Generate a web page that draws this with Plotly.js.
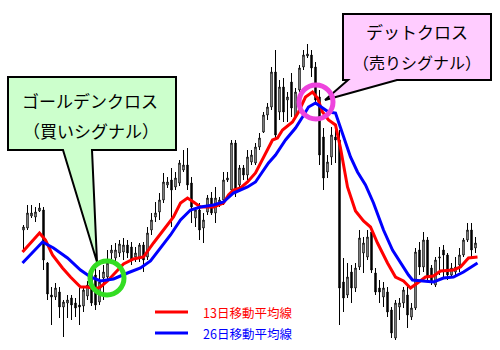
<!DOCTYPE html>
<html>
<head>
<meta charset="utf-8">
<script src="https://cdn.plot.ly/plotly-3.0.1.min.js"></script>
<style>html,body{margin:0;padding:0;background:#fff;}#chart{width:500px;height:350px;}</style>
</head>
<body>
<div id="chart"></div>
<script>
// ---- candle data (price units) ----
const openP  = [120,122,134,133,139,140,87,55,53,58,43,47,52,47,45,44,54,77,75,48,72,73,97,92,97,98,105,103,93,92,105,93,120,133,138,150,165,170,163,167,180,185,167,132,140,122,138,152,137,147,150,170,160,207,165,182,175,188,187,203,218,235,243,278,238,263,250,268,233,260,283,294,295,283,253,213,178,193,213,210,68,55,78,62,83,97,93,118,77,62,53,58,40,12,43,47,55,33,42,100,83,110,82,65,92,100,95,75,78,85,95,110,120,102];
const highP  = [125,145,145,143,147,143,88,63,67,63,50,55,55,52,62,63,69,82,82,80,85,100,105,107,110,112,110,108,103,107,108,123,137,148,157,177,173,182,178,190,200,202,173,143,147,137,155,158,163,153,178,178,210,210,185,185,200,200,207,217,238,247,283,300,270,272,258,277,262,285,300,306,300,288,260,222,195,223,220,220,92,87,85,87,120,113,120,120,82,70,68,63,43,50,52,63,65,47,102,108,118,113,85,93,103,105,97,87,93,102,112,127,127,113];
const lowP   = [100,120,132,128,138,80,50,25,50,32,13,32,30,33,25,38,50,44,40,45,50,70,88,85,93,90,92,85,88,88,78,90,115,128,130,147,162,123,160,164,178,160,127,123,110,107,135,135,127,143,145,168,157,153,160,170,170,185,185,200,217,230,240,210,230,228,228,233,232,258,280,292,273,245,185,160,172,185,187,25,38,52,47,58,80,77,90,77,55,47,43,33,12,10,30,42,22,30,40,75,78,68,65,63,75,73,70,73,73,78,93,108,92,97];
const closeP = [123,137,137,138,142,90,56,53,62,43,48,50,45,42,43,60,65,47,45,68,78,87,100,100,106,105,97,90,97,105,90,117,130,137,150,168,168,160,172,187,185,165,143,140,120,130,152,137,152,150,170,172,207,157,182,175,193,195,203,212,235,243,278,215,263,238,253,242,258,282,295,296,282,250,195,172,188,215,210,62,52,73,62,82,112,107,113,80,58,58,62,38,17,47,47,60,35,42,98,83,110,73,68,90,93,95,75,82,83,95,110,120,100,107];

// ---- moving averages (candle index, price) ----
const ma13X = [-0.25,4,5.5,7.25,9.75,11.75,14.25,16,18,19.25,21,23.5,25,27.5,30,32.5,35,37.5,39.25,41,42.5,44.25,47.5,50,51.25,52.5,54.25,56,58,60.5,62.25,63.5,64.75,67.25,68.75,70.5,72.25,73.5,74.75,76.25,78,79.25,80,81,83,85,86.75,88.5,91,93,95,96.75,98.5,100.5,102.5,104.25,107.5,109.25,111.25,113.5];
const ma13Y = [98,117,110,95,82,73,63,63,61,63,69,79,86,91,93,107,120,133,147,152,148,143,143,147,155,160,162,168,177,197,210,212,220,228,238,253,258,252,238,230,225,202,185,163,139,129,123,107,87,73,69,62,67,73,74,79,80,83,92,93];
const ma26X = [-0.25,4.75,7.5,11,14.25,16.75,19.25,22.5,26,29.25,31.75,34.25,36.75,39.25,41.75,44.25,47.5,50,52.5,56,58,61.25,63,65.5,68,69.75,71.25,73,74.75,76.25,78,79.25,81.75,83.5,85.5,87.5,90,92.25,94.25,96.25,97.25,99.75,102.5,105,107.5,110,113.5];
const ma26Y = [87,108,102,92,80,73,69,71,77,82,89,102,115,130,140,143,145,148,157,163,168,187,195,210,222,233,243,247,242,238,237,223,193,178,165,147,120,100,87,75,70,69,68,72,73,78,87];

const legendNames = ["13日移動平均線", "26日移動平均線"];
const goldenText = ["ゴールデンクロス", "（買いシグナル）"];
const deadText = ["デットクロス", "（売りシグナル）"];

const idx = openP.map((_, i) => i);

// pixel -> paper helpers (layout only)
const W = 500, H = 350;
const px = x => x / W;
const py = y => 1 - y / H;
const P = (x, y) => px(x) + ',' + py(y);

const traces = [
  {
    type: 'candlestick', x: idx, open: openP, high: highP, low: lowP, close: closeP,
    increasing: {line: {color: '#000', width: 1}, fillcolor: '#fff'},
    decreasing: {line: {color: '#000', width: 1}, fillcolor: '#000'},
    whiskerwidth: 0, hoverinfo: 'skip', showlegend: false
  },
  {type: 'scatter', mode: 'lines', x: ma13X, y: ma13Y, line: {color: '#ff0000', width: 3}, showlegend: false, hoverinfo: 'skip'},
  {type: 'scatter', mode: 'lines', x: ma26X, y: ma26Y, line: {color: '#0000ff', width: 3}, showlegend: false, hoverinfo: 'skip'}
];

const jp = '"Noto Sans CJK JP", "Noto Sans", sans-serif';

const shapes = [
  {type: 'path', xref: 'paper', yref: 'paper', layer: 'above',
   path: 'M' + P(8,77) + ' L' + P(176,77) + ' L' + P(176,150) + ' L' + P(92,150) + ' L' + P(97,262) + ' L' + P(63,150) + ' L' + P(8,150) + ' Z',
   fillcolor: '#ccffcc', line: {color: '#000', width: 2}},
  {type: 'path', xref: 'paper', yref: 'paper', layer: 'above',
   path: 'M' + P(343,14) + ' L' + P(491,14) + ' L' + P(491,80) + ' L' + P(397,80) + ' L' + P(325,100) + ' L' + P(348,80) + ' L' + P(343,80) + ' Z',
   fillcolor: '#ffccff', line: {color: '#000', width: 2}},
  {type: 'circle', xref: 'paper', yref: 'paper', layer: 'above',
   x0: px(90), x1: px(124), y0: py(295), y1: py(261), line: {color: '#33dd22', width: 5}},
  {type: 'circle', xref: 'paper', yref: 'paper', layer: 'above',
   x0: px(299), x1: px(333), y0: py(119), y1: py(85), line: {color: '#ee44dd', width: 5}},
  {type: 'line', xref: 'paper', yref: 'paper', x0: px(155), x1: px(188), y0: py(312), y1: py(312), line: {color: '#ff0000', width: 3}},
  {type: 'line', xref: 'paper', yref: 'paper', x0: px(155), x1: px(188), y0: py(333), y1: py(333), line: {color: '#0000ff', width: 3}}
];

const ann = (text, x, y, size, color, anchor) => ({
  text: text, xref: 'paper', yref: 'paper', x: px(x), y: py(y), xanchor: anchor || 'center', yanchor: 'middle',
  showarrow: false, font: {family: jp, size: size, color: color}
});

const annotations = [
  ann(goldenText[0], 90, 100, 17, '#000'),
  ann(goldenText[1], 91, 130, 17, '#000'),
  ann(deadText[0], 417, 32, 17, '#000'),
  ann(deadText[1], 417, 62, 16, '#000'),
  ann(legendNames[0], 201, 312, 12.5, '#ff0000', 'left'),
  ann(legendNames[1], 201, 333, 12.5, '#0000ff', 'left')
];

const layout = {
  width: W, height: H, autosize: false,
  margin: {l: 0, r: 0, t: 0, b: 0, pad: 0},
  paper_bgcolor: '#fff', plot_bgcolor: '#fff',
  showlegend: false,
  boxgap: 0.5,
  xaxis: {range: [-23.5/4, (W-23.5)/4], visible: false, showgrid: false, zeroline: false, rangeslider: {visible: false}, fixedrange: true},
  yaxis: {range: [0, H], visible: false, showgrid: false, zeroline: false, fixedrange: true},
  shapes: shapes, annotations: annotations
};

Plotly.newPlot('chart', traces, layout, {staticPlot: true, displayModeBar: false});
</script>
</body>
</html>
